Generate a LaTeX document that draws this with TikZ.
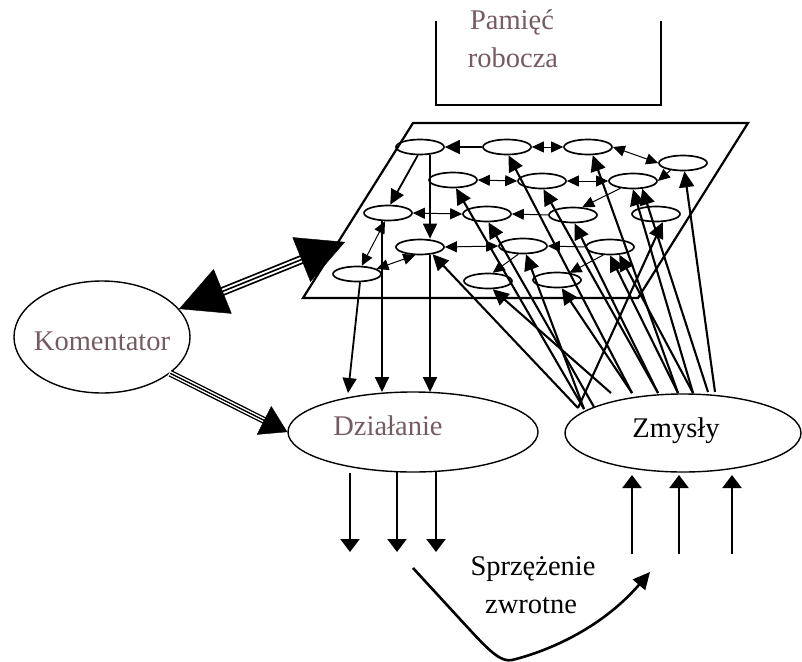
\documentclass[tikz,border=0pt]{standalone}
\usepackage{fontspec}
\setmainfont{Liberation Serif}
\usetikzlibrary{shapes.geometric,arrows.meta}
\definecolor{txtg}{RGB}{118,92,98}
\begin{document}
\begin{tikzpicture}[x=1pt,y=-1pt,
  cell/.style={ellipse,draw,line width=1.7pt,minimum width=48pt,minimum height=15pt,inner sep=0pt},
  big/.style={ellipse,draw,line width=1.4pt,inner sep=0pt},
  lbl/.style={anchor=base,inner sep=0pt,font=\fontsize{28.5}{32}\selectfont},
  lg/.style={line width=2.1pt,-{Triangle[length=16pt,width=15pt]}},
  md/.style={line width=1.8pt,-{Triangle[length=15pt,width=14pt]}},
  sm/.style={line width=1pt,-{Triangle[length=12pt,width=11pt]}},
  smd/.style={line width=1pt,{Triangle[length=12pt,width=11pt]}-{Triangle[length=12pt,width=11pt]}},
  io/.style={line width=2.2pt,-{Triangle[length=13pt,width=19pt]}},
]
\useasboundingbox (0,0) rectangle (802,661);
\fill[white] (0,0) rectangle (802,661);

% working memory box (open at top)
\draw[line width=2.4pt] (436,21) -- (436,105) -- (661,105) -- (661,21);
\node[lbl,text=txtg] (pam1) at (512,30) {Pamięć};
\node[lbl,text=txtg] (pam2) at (513,67) {robocza};

% parallelogram
\draw[line width=2.2pt] (413,123) -- (748,123) -- (638,298) -- (303,298) -- cycle;

% small cells
\node[cell] (e1) at (420,147) {};
\node[cell] (e2) at (507,147) {};
\node[cell] (e3) at (588,147) {};
\node[cell] (e4) at (683,163) {};
\node[cell] (e5) at (453,180) {};
\node[cell] (e6) at (542,181) {};
\node[cell] (e7) at (633,181) {};
\node[cell] (e8) at (388,213) {};
\node[cell] (e9) at (487,214) {};
\node[cell] (e10) at (573,215) {};
\node[cell] (e11) at (656,214) {};
\node[cell] (e12) at (420,247) {};
\node[cell] (e13) at (523,246) {};
\node[cell] (e14) at (610,247) {};
\node[cell] (e15) at (357,274) {};
\node[cell] (e16) at (488,281) {};
\node[cell] (e17) at (557,280) {};

% big ellipses
\node[big,minimum width=176pt,minimum height=112pt] (kom) at (102,337) {};
\node[big,minimum width=250pt,minimum height=80pt] (dz) at (413,432) {};
\node[big,minimum width=236pt,minimum height=78pt] (zm) at (683,433) {};
\node[lbl,text=txtg] (tk) at (102,350) {Komentator};
\node[lbl,text=txtg] (td) at (388,435) {Działanie};
\node[lbl] (tz) at (676,437) {Zmysły};

% connections among cells
\draw[md] (e2.west) -- (e1.east);
\draw[smd] (e2.east) -- (e3.west);
\draw[smd] (e3.east) -- (e4.west);
\draw[md] (e1.-105) -- (e8.75);
\draw[md] ([xshift=10pt]e1.south) -- ([xshift=10pt]e12.north);
\draw[smd] (e6.west) -- (e5.east);
\draw[smd] (e6.east) -- (e7.west);
\draw[sm] (e4.-150) -- (e7.east);
\draw[smd] (e8.east) -- (e9.west);
\draw[sm] (e10.west) -- (e9.east);
\draw[sm] (e7.-150) -- (e10.40);
\draw[smd] (e12.east) -- (e13.west);
\draw[sm] (e14.west) -- (e13.east);
\draw[smd] (e15.60) -- (e8.-110);
\draw[smd] (e12.-120) -- (e15.15);
\draw[sm] (e13.-120) -- (e16.60);
\draw[sm] (e14.-130) -- (e17.30);

% cells to Dzialanie
\coordinate (d1) at (348,393);
\coordinate (d2) at (382,392);
\coordinate (d3) at (430,392);
\draw[md] (e15.-70) -- (d1);
\draw[md] ([xshift=-6pt]e8.south) -- (d2);
\draw[md] ([xshift=10pt]e12.south) -- (d3);

% Zmysly to cells
\coordinate (zA) at (578,408);
\coordinate (zB) at (584,409);
\coordinate (zC) at (594,407);
\coordinate (zD) at (611,393);
\coordinate (zF) at (632,393);
\coordinate (zG) at (658,393);
\coordinate (zH) at (678,393);
\coordinate (zI) at (693,393);
\coordinate (zJ) at (708,392);
\coordinate (zK) at (715,392);
\draw[lg] (zA) -- (e12.-30);
\draw[lg] (zA) -- (e11.-50);
\draw[lg] (zB) -- (e5.-70);
\draw[lg] (zB) -- (e13.-70);
\draw[lg] (zC) -- (e9.-80);
\draw[lg] (zD) -- (e16.-60);
\draw[lg] (zF) -- (e17.-60);
\draw[lg] (zF) -- (e2.-80);
\draw[lg] (zG) -- (e6.-80);
\draw[lg] (zG) -- (e10.-80);
\draw[lg] (zH) -- (e3.-60);
\draw[lg] (zH) -- (e14.-90);
\draw[lg] (zI) -- (e7.-90);
\draw[lg] (zI) -- (e14.-40);
\draw[lg] (zJ) -- (e7.-40);
\draw[lg] (zK) -- (e4.-80);

% Komentator <-> network (triple shaft)
\coordinate (gt) at (345,242);
\draw[line width=9pt,shorten <=40pt,shorten >=40pt] (kom.20) -- (gt);
\draw[line width=5.5pt,white,shorten <=38pt,shorten >=38pt] (kom.20) -- (gt);
\draw[line width=1.6pt,shorten <=40pt,shorten >=40pt] (kom.20) -- (gt);
\draw[line width=0.4pt,{Triangle[length=47pt,width=48pt]}-{Triangle[length=47pt,width=48pt]}] (kom.20) -- (gt);

% Komentator -> Dzialanie
\draw[line width=7pt,shorten >=22pt] (kom.-28) -- (dz.west);
\draw[line width=4.2pt,white,shorten >=20pt,shorten <=-1pt] (kom.-28) -- (dz.west);
\draw[line width=1.3pt,shorten >=22pt] (kom.-28) -- (dz.west);
\draw[line width=0.4pt,-{Triangle[length=26pt,width=32pt]}] (kom.-28) -- (dz.west);

% outputs / inputs
\coordinate (a1s) at (350,473); \coordinate (a1e) at (350,552);
\coordinate (a2s) at (397,472); \coordinate (a2e) at (397,552);
\coordinate (a3s) at (436,472); \coordinate (a3e) at (436,552);
\draw[io] (a1s) -- (a1e);
\draw[io] (a2s) -- (a2e);
\draw[io] (a3s) -- (a3e);
\coordinate (b1s) at (632,554); \coordinate (b1e) at (632,475);
\coordinate (b2s) at (679,554); \coordinate (b2e) at (679,475);
\coordinate (b3s) at (732,554); \coordinate (b3e) at (732,475);
\draw[io] (b1s) -- (b1e);
\draw[io] (b2s) -- (b2e);
\draw[io] (b3s) -- (b3e);

% feedback
\coordinate (fs) at (413,568);
\coordinate (fe) at (650,572);
\draw[line width=2.6pt,-{Triangle[length=17pt,width=16pt]}] (fs) -- (470,630) .. controls (492,654) and (502,662) .. (512,660) .. controls (545,652) and (600,630) .. (fe);
\node[lbl] (ts1) at (533,575) {Sprzężenie};
\node[lbl] (ts2) at (531,613) {zwrotne};
\end{tikzpicture}
\end{document}
